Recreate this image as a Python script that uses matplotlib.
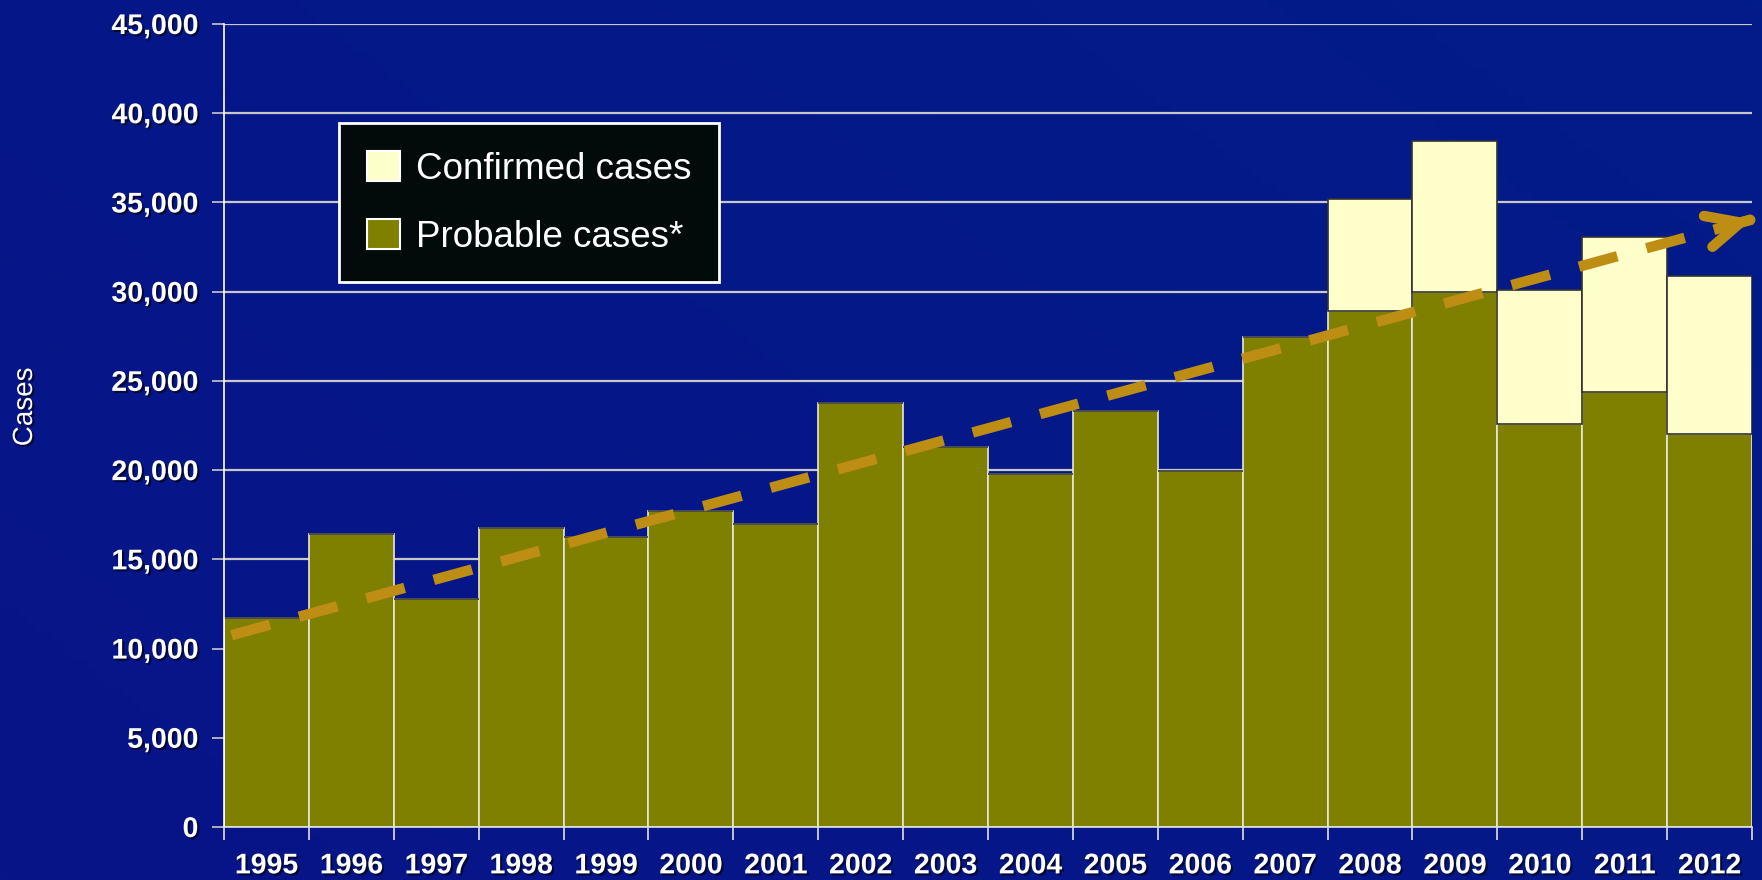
import numpy as np
import matplotlib
matplotlib.use("Agg")
import matplotlib.pyplot as plt
import matplotlib.patheffects as pe
from matplotlib.patches import Patch
from matplotlib.ticker import FuncFormatter

years = ["1995", "1996", "1997", "1998", "1999", "2000", "2001", "2002", "2003",
         "2004", "2005", "2006", "2007", "2008", "2009", "2010", "2011", "2012"]
probable = [11700, 16400, 12800, 16750, 16250, 17700, 17000, 23750, 21300,
            19800, 23300, 19950, 27450, 28900, 30000, 22600, 24400, 22000]
confirmed = [0, 0, 0, 0, 0, 0, 0, 0, 0,
             0, 0, 0, 0, 6300, 8450, 7500, 8650, 8850]
trend_start = 10750
trend_end = 34050

plt.rcParams["font.family"] = ["Liberation Sans", "DejaVu Sans"]

fig = plt.figure(figsize=(17.62, 8.8), dpi=100)

# background gradient
bg = fig.add_axes([0, 0, 1, 1], zorder=-10)
gx, gy = np.meshgrid(np.linspace(0, 1, 200), np.linspace(0, 1, 100))
g = 0.6 * gx + 0.4 * (1 - gy)
c0 = np.array([0x08, 0x14, 0x88]) / 255
c1 = np.array([0x02, 0x1c, 0x88]) / 255
img = c0[None, None, :] * (1 - g[..., None]) + c1[None, None, :] * g[..., None]
bg.imshow(img, aspect="auto", extent=[0, 1, 0, 1])
bg.axis("off")

ax = fig.add_axes([224 / 1762, 53 / 880, 1528 / 1762, 803 / 880])
ax.set_facecolor("none")

x = np.arange(len(years))
shadow = [pe.SimplePatchShadow(offset=(1.5, -1.5), shadow_rgbFace="black", alpha=0.6), pe.Normal()]

ax.bar(x, probable, width=1.0, color="#808000", edgecolor="#E8E8D8", linewidth=1.2, zorder=2)
ax.bar(x, confirmed, width=1.0, bottom=probable, color="#FFFFCC", edgecolor="#333333",
       linewidth=1.2, zorder=2)

ax.set_xlim(-0.5, len(years) - 0.5)
ax.set_ylim(0, 45000)
ax.set_yticks(np.arange(0, 45001, 5000))
ax.yaxis.set_major_formatter(FuncFormatter(lambda v, p: f"{int(v):,}"))
ax.grid(axis="y", color="#C8C8C8", linewidth=1.6, zorder=0)
ax.set_axisbelow(True)

ax.set_xticks(x)
ax.set_xticklabels(years)
ax.set_xticks(np.arange(-0.5, len(years), 1), minor=True)
ax.tick_params(axis="x", which="major", length=0, pad=19)
ax.tick_params(axis="x", which="minor", length=9, width=1.2, color="#E0E0E0", direction="out")
ax.tick_params(axis="y", length=9, width=1.2, color="#C8C8C8", direction="out", pad=9.5)
for lab in ax.get_xticklabels() + ax.get_yticklabels():
    lab.set_color("white")
    lab.set_fontsize(20.5)
    lab.set_fontweight("bold")
    lab.set_path_effects(shadow)

for s in ["top", "right"]:
    ax.spines[s].set_visible(False)
ax.spines["left"].set_color("white")
ax.spines["bottom"].set_color("#E0E0E0")
ax.spines["left"].set_linewidth(1.2)
ax.spines["bottom"].set_linewidth(1.2)

fig.text(25 / 1762, 1 - 407 / 880, "Cases", rotation=90, color="white", fontsize=20,
         ha="center", va="center", path_effects=shadow)

# trend arrow: dashed line ending with a dash at the tip, plus chevron head
tc = "#BE8E14"
x0, x1 = -0.41, 17.5
ax.plot([x0, x1], [trend_start, trend_end], color=tc, linewidth=7.5,
        dashes=(3.81, 2.895), dash_capstyle="butt", zorder=4, clip_on=False)
xs = x1 - 0.02
ys = trend_start + (trend_end - trend_start) * (xs - x0) / (x1 - x0)
ax.annotate("", xy=(x1, trend_end), xytext=(xs, ys),
            arrowprops=dict(arrowstyle="->,head_length=2.4,head_width=1.15", color=tc,
                            lw=7.5, capstyle="round", joinstyle="round",
                            shrinkA=0, shrinkB=0, mutation_scale=10),
            zorder=5, annotation_clip=False)

handles = [Patch(facecolor="#FFFFCC", edgecolor="white", linewidth=1.5, label="Confirmed cases"),
           Patch(facecolor="#808000", edgecolor="white", linewidth=1.5, label="Probable cases*")]
leg = fig.legend(handles=handles, loc="upper left",
                 bbox_to_anchor=(339 / 1762, 1 - 123 / 880), fontsize=26.5,
                 frameon=True, fancybox=False, facecolor="#020A0A", edgecolor="white",
                 framealpha=1, handlelength=0.9, handleheight=0.9, handletextpad=0.45,
                 labelspacing=0.87, borderpad=0.75, borderaxespad=0)
leg.get_frame().set_linewidth(2)
for t in leg.get_texts():
    t.set_color("white")

fig.savefig("out.png", dpi=100, facecolor=fig.get_facecolor())
